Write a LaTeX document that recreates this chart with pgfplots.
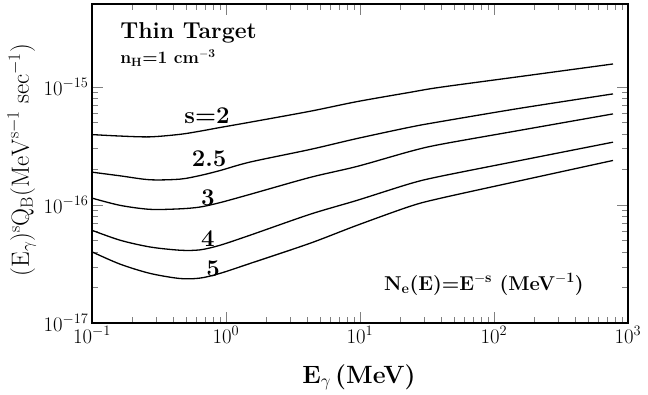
\documentclass[border=0pt]{standalone}
\usepackage{pgfplots}
\pgfplotsset{compat=1.18}
\newcommand{\curvefont}{\fontsize{24}{28}\selectfont\bfseries}
\begin{document}
\begin{tikzpicture}
\begin{axis}[
  at={(92pt,71pt)}, anchor=south west,
  scale only axis, width=536pt, height=319pt,
  xmode=log, ymode=log,
  xmin=0.1, xmax=1000, ymin=1e-17, ymax=5e-15,
  xtick={0.1,1,10,100,1000},
  ytick={1e-17,1e-16,1e-15},
  tick align=inside,
  major tick length=11pt, minor tick length=6pt,
  axis line style={line width=1.5pt},
  tick label style={font=\fontsize{22}{26}\selectfont},
  xlabel={\bfseries E$_{\gamma}$\,(MeV)},
  ylabel={$(\mathrm{E}_\gamma)^{\mathrm{s}}\mathrm{Q}_{\mathrm{B}}(\mathrm{MeV}^{\mathrm{s}-1}\;\mathrm{sec}^{-1})$},
  xlabel style={font=\fontsize{25}{29}\selectfont, at={(axis description cs:0.498,-0.188)}, anchor=base},
  ylabel style={font=\fontsize{26}{30}\selectfont, at={(axis description cs:-0.131,0.511)}, anchor=center},
]
% s = 2
\addplot[black, line width=1.3pt, smooth] coordinates {
  (0.1,3.93e-16) (0.162,3.82e-16) (0.271,3.76e-16) (0.454,3.95e-16) (0.64,4.20e-16)
  (0.902,4.51e-16) (1.51,5.00e-16) (4.24,6.19e-16) (9.5,7.47e-16) (23.6,8.95e-16)
  (39.5,9.87e-16) (156,1.217e-15) (773,1.555e-15)};
% s = 2.5
\addplot[black, line width=1.3pt, smooth] coordinates {
  (0.1,1.89e-16) (0.162,1.76e-16) (0.271,1.63e-16) (0.454,1.65e-16) (0.64,1.77e-16)
  (0.902,1.95e-16) (1.51,2.30e-16) (4.24,2.94e-16) (9.5,3.64e-16) (23.6,4.54e-16)
  (39.5,5.05e-16) (156,6.56e-16) (773,8.68e-16)};
% s = 3
\addplot[black, line width=1.3pt, smooth] coordinates {
  (0.1,1.14e-16) (0.162,9.90e-17) (0.271,9.16e-17) (0.454,9.25e-17) (0.64,9.58e-17)
  (0.902,1.044e-16) (1.51,1.226e-16) (4.24,1.706e-16) (9.5,2.113e-16) (23.6,2.83e-16)
  (39.5,3.24e-16) (156,4.27e-16) (773,5.88e-16)};
% s = 4
\addplot[black, line width=1.3pt, smooth] coordinates {
  (0.1,6.09e-17) (0.162,5.02e-17) (0.271,4.40e-17) (0.454,4.13e-17) (0.64,4.16e-17)
  (0.902,4.55e-17) (1.51,5.53e-17) (4.24,8.32e-17) (9.5,1.091e-16) (23.6,1.51e-16)
  (39.5,1.74e-16) (156,2.37e-16) (773,3.39e-16)};
% s = 5
\addplot[black, line width=1.3pt, smooth] coordinates {
  (0.1,4.00e-17) (0.162,3.15e-17) (0.271,2.63e-17) (0.454,2.38e-17) (0.64,2.40e-17)
  (0.902,2.63e-17) (1.51,3.19e-17) (4.24,4.73e-17) (9.5,6.71e-17) (23.6,9.71e-17)
  (39.5,1.134e-16) (156,1.598e-16) (773,2.374e-16)};

% curve labels
\node[font=\curvefont, anchor=base] at (axis cs:0.721,4.84e-16) {s=2};
\node[font=\curvefont, anchor=base] at (axis cs:0.747,2.126e-16) {2.5};
\node[font=\curvefont, anchor=base] at (axis cs:0.734,9.90e-17) {3};
\node[font=\curvefont, anchor=base] at (axis cs:0.734,4.40e-17) {4};
\node[font=\curvefont, anchor=base] at (axis cs:0.80,2.49e-17) {5};
% annotations
\node[anchor=base west, inner sep=0pt, font=\fontsize{23}{27}\selectfont\bfseries] at (axis cs:0.162,2.54e-15) {Thin Target};
\node[anchor=base west, inner sep=0pt, font=\fontsize{17.5}{21}\selectfont\bfseries] at (axis cs:0.162,1.563e-15) {n$_{\mathbf{H}}$=1 cm$^{\mathbf{-3}}$};
\node[anchor=base, inner sep=0pt, font=\fontsize{20}{24}\selectfont\bfseries] at (axis cs:84,1.90e-17) {N$_{\mathbf{e}}$(E)=E$^{\mathbf{-s}}$ (MeV$^{\mathbf{-1}}$)};
\end{axis}
\path (0pt,0pt) rectangle (648pt,394pt);
\end{tikzpicture}
\end{document}
